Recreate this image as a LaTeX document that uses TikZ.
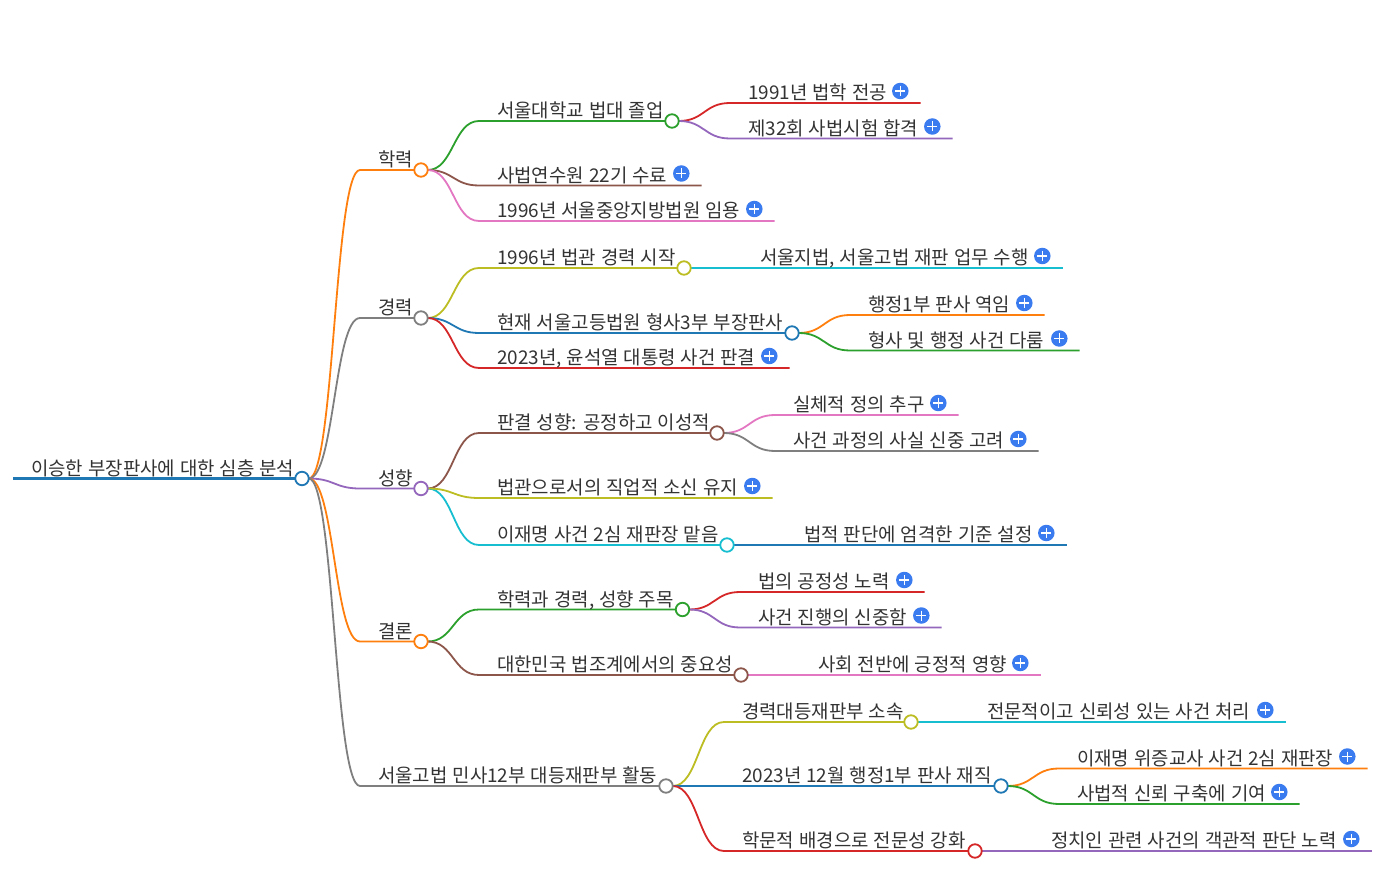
\documentclass[tikz,border=0pt]{standalone}
\usepackage{fontspec}
\setmainfont[WordSpace=1.16]{Noto Sans CJK KR}
\usepackage{tikz}
\usetikzlibrary{backgrounds, calc}

\definecolor{cblue}{HTML}{1F77B4}
\definecolor{corange}{HTML}{FF7F0E}
\definecolor{cgreen}{HTML}{2CA02C}
\definecolor{cred}{HTML}{D62728}
\definecolor{cpurple}{HTML}{9467BD}
\definecolor{cbrown}{HTML}{8C564B}
\definecolor{cpink}{HTML}{E377C2}
\definecolor{cgray}{HTML}{7F7F7F}
\definecolor{colive}{HTML}{BCBD22}
\definecolor{ccyan}{HTML}{17BECF}
\definecolor{plusblue}{HTML}{3B7BF0}
\definecolor{inkgray}{HTML}{333333}

\newcommand{\bendlink}[4]{\draw[linkline,#1] let \p1=(#2.east), \p2=(#3) in
  (\p1) .. controls (\x1/2+\x2/2,\y1) and (\x1/2+\x2/2,\y2) .. (\p2) -- (#4);}

\begin{document}
\begin{tikzpicture}[
      x=1pt, y=-1pt,
      linkline/.style={line width=1.8pt},
      labeltext/.style={anchor=base west, inner sep=0pt, text=inkgray, font=\fontsize{18.9}{20}\selectfont},
      foldcircle/.style={circle, draw=#1, fill=white, line width=1.8pt, inner sep=0pt, outer sep=0pt, minimum size=13.5pt},
      plusicon/.style={circle, fill=plusblue, inner sep=0pt, minimum size=16.5pt, path picture={
        \draw[white, line width=1.6pt] (path picture bounding box.center) ++(-5,0) -- ++(10,0) ++(-5,-5) -- ++(0,10);}}
    ]
      \useasboundingbox (0,0) rectangle (1398,882);

      % root
      \coordinate (root-s) at (13,478.5);
      \node[foldcircle=cblue] (root) at (302,478.5) {};
      \node[labeltext] (root-t) at (31,475.2) {이승한 부장판사에 대한 심층 분석};
      \begin{scope}[on background layer]
        \draw[linkline,cblue,line width=2.5pt] (root-s) -- (root.west);
      \end{scope}

      % branches that end in a circle: name/parent/colour/text x/line y/circle x/text
      \foreach \id/\up/\clr/\tx/\ly/\ex/\lbl in {
        edu/root/corange/378/170/421/학력,
        car/root/cgray/378/318/421/경력,
        tnd/root/cpurple/378/488.5/421/성향,
        con/root/corange/378/641.5/421/결론,
        act/root/cgray/378/786/666/서울고법 민사12부 대등재판부 활동,
        snu/edu/cgreen/497/121/672/서울대학교 법대 졸업,
        beg/car/colive/497/268/684/1996년 법관 경력 시작,
        now/car/cblue/497/333/792/현재 서울고등법원 형사3부 부장판사,
        rul/tnd/cbrown/497/433/717/판결 성향: 공정하고 이성적,
        lee/tnd/ccyan/497/545/727/이재명 사건 2심 재판장 맡음,
        ack/con/cgreen/497/609.5/682.5/{학력과 경력, 성향 주목},
        kor/con/cbrown/497/675/741/대한민국 법조계에서의 중요성,
        div/act/colive/742/722/911/경력대등재판부 소속,
        adm/act/cblue/742/786/1001/2023년 12월 행정1부 판사 재직,
        aca/act/cred/742/851/975/학문적 배경으로 전문성 강화%
      }{
        \coordinate (\id-s) at (\tx-18,\ly);
        \node[foldcircle=\clr] (\id) at (\ex,\ly) {};
        \node[labeltext] (\id-t) at (\tx,\ly-3.3) {\lbl};
        \begin{scope}[on background layer]
          \bendlink{\clr}{\up}{\id-s}{\id.west}
        \end{scope}
      }

      % leaves: name/parent/colour/text x/line y/plus x/text
      \foreach \id/\up/\clr/\tx/\ly/\ex/\lbl in {
        law/snu/cred/748/103/900/1991년 법학 전공,
        bar/snu/cpurple/748/138.5/932/제32회 사법시험 합격,
        inst/edu/cbrown/497/185.5/681/사법연수원 22기 수료,
        appt/edu/cpink/497/221/754/1996년 서울중앙지방법원 임용,
        work/beg/ccyan/760/268/1042/{서울지법, 서울고법 재판 업무 수행},
        pos/now/corange/868/315/1024/행정1부 판사 역임,
        case/now/cgreen/868/350.5/1059/형사 및 행정 사건 다룸,
        pres/car/cred/497/368/769/{2023년, 윤석열 대통령 사건 판결},
        just/rul/cpink/793/415/938/실체적 정의 추구,
        fact/rul/cgray/793/451/1018/사건 과정의 사실 신중 고려,
        fait/tnd/colive/497/498/752/법관으로서의 직업적 소신 유지,
        std/lee/cblue/804/545/1046/법적 판단에 엄격한 기준 설정,
        fair/ack/cred/758/592/904/법의 공정성 노력,
        care/ack/cpurple/758/627.5/921/사건 진행의 신중함,
        soc/kor/cpink/818/675/1020/사회 전반에 긍정적 영향,
        pro/div/ccyan/987/722/1265/전문적이고 신뢰성 있는 사건 처리,
        perj/adm/corange/1077/768.5/1347/이재명 위증교사 사건 2심 재판장,
        trust/adm/cgreen/1077/804/1279/사법적 신뢰 구축에 기여,
        pol/aca/cpurple/1051/851/1351/정치인 관련 사건의 객관적 판단 노력%
      }{
        \coordinate (\id-s) at (\tx-18,\ly);
        \coordinate (\id-e) at (\ex+20.5,\ly);
        \node[labeltext] (\id-t) at (\tx,\ly-3.3) {\lbl};
        \node[plusicon] (\id-p) at (\ex+0.3,\ly-12) {};
        \begin{scope}[on background layer]
          \bendlink{\clr}{\up}{\id-s}{\id-e}
        \end{scope}
      }
    \end{tikzpicture}
\end{document}
